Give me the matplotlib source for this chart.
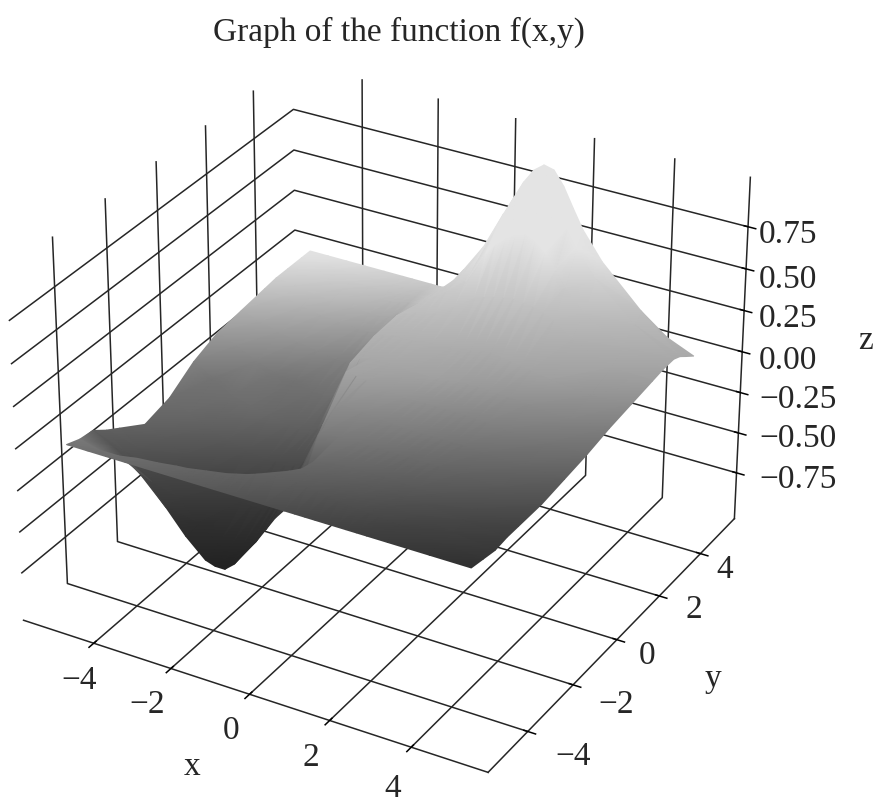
import matplotlib
matplotlib.use("Agg")
import matplotlib.pyplot as plt
import numpy as np
from mpl_toolkits.mplot3d import proj3d

plt.rcParams['font.family'] = ['Liberation Serif', 'DejaVu Serif']

x_vals = [-5, -4.5, -4, -3.5, -3, -2.5, -2.25, -2, -1.75, -1.5, -1.25, -1, -.75, -.5, 0, .5, .75, 1, 1.25, 1.5, 1.75, 2, 2.25, 2.5, 3, 4, 5]
y_vals = [-5, -4.5, -4, -3.5, -3, -2, -1, 0, 1, 2, 3, 3.5, 4, 4.3, 4.6, 5]
# one row per y value
z_rows = [
    [0] * 27,
    [-.03, -.06, -.06, -.04, -.03, -.015, -.01, 0, .01, .02, .03, .045, .06, .08, .11, .1, .09, .08, .07, .06, .055, .05, .045, .04, .03, 0, -.015],
    [-.04, -.1, -.17, -.24, -.35, -.49, -.55, -.58, -.57, -.54, -.42, -.29, -.16, -.05, .07, .08, .075, .07, .065, .06, .055, .05, .045, .04, .03, 0, -.03],
    [-.1, -.2, -.33, -.46, -.6, -.71, -.73, -.73, -.68, -.58, -.48, -.39, -.26, -.17, .02, .03, .035, .04, .04, .04, .04, .04, .035, .03, .03, 0, -.02],
    [-.15, -.24, -.35, -.47, -.59, -.68, -.7, -.7, -.66, -.59, -.5, -.41, -.34, -.3, 0, .02, .025, .03, .03, .03, .03, .03, .025, .02, .02, 0, -.02],
    [-.25, -.3, -.37, -.45, -.5, -.55, -.56, -.56, -.52, -.46, -.4, -.32, -.15, 0, .02, .02, .02, .02, .02, .02, .02, .02, .02, .02, .01, 0, -.02],
    [-.21, -.27, -.33, -.37, -.4, -.42, -.42, -.42, -.4, -.36, -.28, -.1, 0, .05, .04, .03, .025, .02, .02, .02, .02, .02, .02, .02, .01, 0, 0],
    [-.11, -.18, -.25, -.28, -.3, -.33, -.34, -.35, -.3, -.24, -.15, .1, .09, .08, .05, .04, .04, .04, .04, .04, .04, .04, .035, .03, .02, .01, .02],
    [-.05, -.1, -.16, -.2, -.22, -.25, -.25, -.25, -.16, 0, .04, .06, .06, .06, .05, .05, .055, .06, .065, .07, .07, .07, .065, .06, .05, .03, .05],
    [-.03, -.07, -.1, -.13, -.15, -.17, -.17, -.16, -.08, .04, .06, .08, .08, .08, .1, .1, .11, .12, .13, .14, .13, .12, .11, .1, .08, .05, .07],
    [-.01, -.03, -.06, -.08, -.09, -.1, -.1, -.09, -.03, .05, .08, .1, .11, .13, .2, .28, .31, .33, .34, .35, .34, .33, .31, .28, .2, .1, .09],
    [0, -.02, -.04, -.05, -.06, -.06, -.06, -.05, -.01, .03, .07, .12, .16, .2, .3, .5, .57, .62, .66, .68, .65, .6, .51, .42, .3, .16, .1],
    [0, -.01, -.02, -.03, -.03, -.03, -.03, -.02, 0, .01, .06, .12, .16, .2, .37, .6, .72, .82, .89, .93, .88, .8, .7, .6, .45, .24, .1],
    [0, -.01, -.01, -.02, -.02, -.02, -.02, -.01, 0, .01, .05, .1, .17, .25, .42, .65, .76, .87, .955, 1.0, .985, .905, .79, .68, .52, .29, .08],
    [0, 0, -.01, -.01, -.01, -.01, -.01, -.01, 0, 0, .03, .07, .13, .2, .35, .55, .66, .75, .82, .85, .82, .72, .6, .5, .36, .18, .045],
    [0, 0, 0, 0, 0, 0, 0, 0, 0, 0, .01, .03, .06, .1, .2, .35, .43, .5, .54, .55, .52, .45, .38, .32, .22, .08, 0],
]
# where the step in the surface sits on each y row; what lies left of it is the darker sheet
step_x = [-9, -9, -.3, -.3, -.2, -.8, -1.1, -1.1, -1.6, -1.6, -1.6, -1.6, -1.6, -1.6, -1.6, -1.6]
# gray seen at a given height in the picture, front sheet and back sheet
ramp_y = [255, 283, 330, 378, 407, 473, 523, 568]
ramp_front = [228, 205, 180, 160, 140, 98, 68, 48]
ramp_back = [226, 200, 156, 115, 108, 70, 48, 34]
xticks = [-4, -2, 0, 2, 4]
yticks = [-4, -2, 0, 2, 4]
zticks = [-.75, -.5, -.25, 0, .25, .5, .75]
xtick_labels = ['\u22124', '\u22122', '0', '2', '4']
ytick_labels = ['\u22124', '\u22122', '0', '2', '4']
ztick_labels = ['\u22120.75', '\u22120.50', '\u22120.25', '0.00', '0.25', '0.50', '0.75']

W, H = 888, 809
INK = '#262626'
fig = plt.figure(figsize=(W/100, H/100), dpi=100)
ax = fig.add_axes([-0.078, -0.0074, 1.0, 1.0], projection='3d')
ax.view_init(elev=30, azim=-60)
ax.set_box_aspect((4, 4, 3), zoom=1.022)
ax.set_xlim(-5.85, 5.85)
ax.set_ylim(-5.7, 5.7)
ax.set_zlim(-1.04, 1.04)
ax.set_xticks(xticks)
ax.set_yticks(yticks)
ax.set_zticks(zticks)
ax.set_xticklabels([''] * 5)
ax.set_yticklabels([''] * 5)
ax.set_zticklabels([''] * 7)
for axis in (ax.xaxis, ax.yaxis, ax.zaxis):
    axis.pane.set_visible(False)
    axis._axinfo['grid'].update(color=INK, linewidth=1.1)
    axis.line.set_color(INK)
    axis.line.set_linewidth(1.1)
    axis._axinfo['tick'].update(color=INK, linewidth={True: 1.1, False: 1.1})


def label(px_x, px_y, s, ha='center'):
    fig.text(px_x/W, 1-(px_y+3)/H, s, fontsize=24, ha=ha, va='center', color=INK)


label(399, 29, 'Graph of the function f(x,y)')
for pos, s in zip([(79, 678), (147, 702), (231, 728), (311, 755), (393, 786)], xtick_labels):
    label(pos[0], pos[1], s)
for pos, s in zip([(573, 754), (616, 702), (647, 653), (694, 607), (725, 567)], ytick_labels):
    label(pos[0], pos[1], s)
for pos, s in zip([477, 436, 397, 358, 316, 277, 232], ztick_labels):
    label(759, pos, s, ha='left')
label(192, 764, 'x')
label(713, 676, 'y')
label(865, 338, 'z')

fig.canvas.draw()

X, Y = np.meshgrid(x_vals, y_vals)
Z = np.array(z_rows, dtype=float)

px, py, pz = proj3d.proj_transform(X.ravel(), Y.ravel(), Z.ravel(), ax.M)
disp = ax.transData.transform(np.column_stack([px, py]))
down = H - disp[:, 1]
back = (X < np.array(step_x)[:, None]).ravel()
gray = np.where(back, np.interp(down, ramp_y, ramp_back), np.interp(down, ramp_y, ramp_front))

nx = len(x_vals)
tris = []
for j in range(len(y_vals)-1):
    for i in range(nx-1):
        a, b, c, d = j*nx+i, j*nx+i+1, (j+1)*nx+i+1, (j+1)*nx+i
        tris += [[a, b, c], [a, c, d]]
tris = np.array(tris)
# only faces turned to the camera, far ones first
p0, p1, p2 = disp[tris[:, 0]], disp[tris[:, 1]], disp[tris[:, 2]]
area = (p1[:, 0]-p0[:, 0])*(p2[:, 1]-p0[:, 1]) - (p1[:, 1]-p0[:, 1])*(p2[:, 0]-p0[:, 0])
tris = tris[area > 0]
tris = tris[np.argsort(-pz[tris].mean(axis=1))]

over = fig.add_axes([0, 0, 1, 1], zorder=5)
over.set_xlim(0, W)
over.set_ylim(0, H)
over.axis('off')
over.patch.set_visible(False)
over.tripcolor(disp[:, 0], disp[:, 1], tris, gray, shading='gouraud', cmap='gray', vmin=0, vmax=255)

fig.savefig('out.png', dpi=100)
